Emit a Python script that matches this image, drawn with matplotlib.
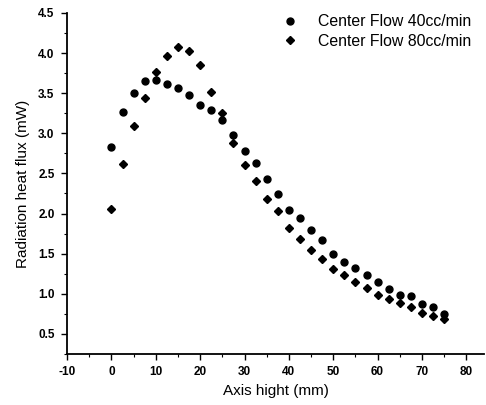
import numpy as np
import matplotlib.pyplot as plt
from matplotlib.ticker import MultipleLocator, FormatStrFormatter

plt.rcParams['font.family'] = ['Liberation Sans', 'DejaVu Sans']
plt.rcParams['axes.unicode_minus'] = False

# axis position (mm), 0 to 75 in 2.5 steps
x = [0, 2.5, 5, 7.5, 10, 12.5, 15, 17.5, 20, 22.5, 25, 27.5, 30, 32.5, 35, 37.5,
     40, 42.5, 45, 47.5, 50, 52.5, 55, 57.5, 60, 62.5, 65, 67.5, 70, 72.5, 75]

flux_40 = [2.83, 3.26, 3.50, 3.65, 3.66, 3.62, 3.57, 3.48, 3.35, 3.29, 3.16, 2.98,
           2.78, 2.63, 2.43, 2.24, 2.05, 1.95, 1.79, 1.67, 1.50, 1.40, 1.32, 1.23,
           1.15, 1.06, 0.99, 0.97, 0.87, 0.83, 0.75]

flux_80 = [2.06, 2.62, 3.09, 3.44, 3.76, 3.96, 4.07, 4.03, 3.85, 3.52, 3.25, 2.88,
           2.60, 2.40, 2.18, 2.03, 1.82, 1.68, 1.54, 1.43, 1.31, 1.23, 1.15, 1.075,
           0.99, 0.93, 0.88, 0.83, 0.76, 0.72, 0.68]

labels = ['Center Flow 40cc/min', 'Center Flow 80cc/min']

fig = plt.figure(figsize=(4.86, 4.05), dpi=100)
ax = fig.add_axes([0.138, 0.126, 0.858, 0.842])

ax.plot(x, flux_40, 'o', color='black', markersize=5, label=labels[0])
ax.plot(x, flux_80, 'D', color='black', markersize=4.5, label=labels[1])

ax.set_xlim(-10, 84)
ax.set_ylim(0.25, 4.5)
ax.xaxis.set_major_locator(MultipleLocator(10))
ax.xaxis.set_minor_locator(MultipleLocator(5))
ax.yaxis.set_major_locator(MultipleLocator(0.5))
ax.yaxis.set_minor_locator(MultipleLocator(0.25))
ax.yaxis.set_major_formatter(FormatStrFormatter('%.1f'))

for s in ['top', 'right']:
    ax.spines[s].set_visible(False)
for s in ['left', 'bottom']:
    ax.spines[s].set_linewidth(1.3)

ax.tick_params(which='major', direction='out', length=4, width=1, labelsize=8.5, pad=5)
ax.tick_params(which='minor', direction='out', length=2, width=0.8)
for lab in ax.get_xticklabels() + ax.get_yticklabels():
    lab.set_fontweight('bold')

ax.set_xlabel('Axis hight (mm)', fontsize=11, labelpad=4)
ax.set_ylabel('Radiation heat flux (mW)', fontsize=11, labelpad=6)

ax.legend(loc='upper right', frameon=False, fontsize=11.4, handletextpad=1.0,
          borderaxespad=0.0, labelspacing=0.3, handlelength=1.6,
          bbox_to_anchor=(0.985, 1.015))

fig.savefig('out.png', dpi=100)
